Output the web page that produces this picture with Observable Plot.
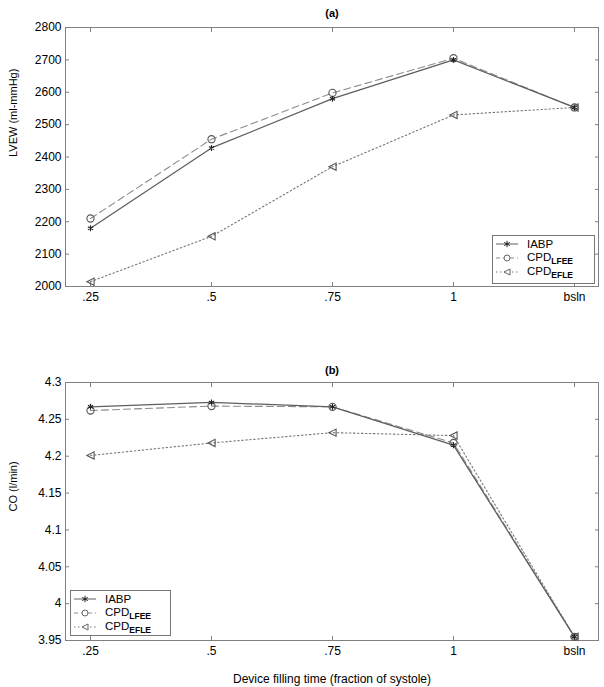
<!DOCTYPE html>
<html><head><meta charset="utf-8">
<script src="https://cdn.jsdelivr.net/npm/d3@7"></script>
<script src="https://cdn.jsdelivr.net/npm/@observablehq/plot@0.6"></script>
<style>
body{margin:0;background:#fff;font-family:"Liberation Sans",Arial,sans-serif;}
#wrap{position:relative;width:604px;height:687px;}
#wrap svg{display:block;}
.legend{position:absolute;border:1px solid #777;background:#fff;font-size:11.5px;color:#000;box-sizing:border-box;padding:1px 0 0 2px;}
.legend .row{display:flex;align-items:center;height:14px;}
.legend svg{margin-right:8px;}
.legend sub{font-size:8.5px;font-weight:bold;vertical-align:-3px;}
</style></head><body>
<div id="wrap"></div>
<script>
const xLabels = [".25", ".5", ".75", "1", "bsln"];
const seriesNames = ["IABP", "CPD_LFEE", "CPD_EFLE"];
// Panel (a): LVEW (ml-mmHg)
const lvewIABP = [2180, 2428, 2580, 2700, 2553];
const lvewLFEE = [2210, 2455, 2598, 2705, 2553];
const lvewEFLE = [2015, 2155, 2370, 2530, 2553];
const lvewTicks = [2000, 2100, 2200, 2300, 2400, 2500, 2600, 2700, 2800];
// Panel (b): CO (l/min)
const coIABP = [4.267, 4.273, 4.267, 4.215, 3.955];
const coLFEE = [4.262, 4.268, 4.267, 4.218, 3.955];
const coEFLE = [4.201, 4.218, 4.232, 4.228, 3.955];
const coTicks = [3.95, 4, 4.05, 4.1, 4.15, 4.2, 4.25, 4.3];

const leftTri = {draw(ctx, size){ const s = Math.sqrt(size / Math.PI); ctx.moveTo(-s, 0); ctx.lineTo(s, -s); ctx.lineTo(s, s); ctx.closePath(); }};
const styles = {
  IABP: {stroke: "#5f5f5f", dash: null, symbol: "asterisk", r: 2.8, sw: 1.3},
  CPD_LFEE: {stroke: "#8c8c8c", dash: "7,4", symbol: "circle", r: 3.6, sw: 1.1},
  CPD_EFLE: {stroke: "#777", dash: "1.5,2.5", symbol: leftTri, r: 3.6, sw: 1.1}
};

function rows(arrs){
  const out = [];
  arrs.forEach((a, i) => a.forEach((v, j) => out.push({series: seriesNames[i], x: xLabels[j], y: v})));
  return out;
}

function panel({title, ylabel, xlabel, yDomain, yTicks, fmt, data, height, marginTop, marginBottom, titleDy}){
  const marks = [
    Plot.frame({stroke: "#808080"}),
    Plot.axisX({tickSize: 0, tickPadding: 6, label: null, fontSize: 12}),
    Plot.axisX({tickSize: -4, tickFormat: () => "", label: null, stroke: "#808080"}),
    Plot.axisX({anchor: "top", tickSize: -4, tickFormat: () => "", label: null, stroke: "#808080"}),
    Plot.axisY({ticks: yTicks, tickSize: 0, tickPadding: 4, tickFormat: fmt, label: null, fontSize: 12}),
    Plot.axisY({ticks: yTicks, tickSize: -4, tickFormat: () => "", label: null, stroke: "#808080"}),
    Plot.axisY({anchor: "right", ticks: yTicks, tickSize: -4, tickFormat: () => "", label: null, stroke: "#808080"}),
    Plot.text([title], {frameAnchor: "top", dy: titleDy, fontWeight: "bold", fontSize: 11}),
    Plot.text([ylabel], {frameAnchor: "left", rotate: -90, dx: -52, fontSize: 11})
  ];
  if (xlabel) marks.push(Plot.text([xlabel], {frameAnchor: "bottom", dy: 42, fontSize: 12}));
  for (const s of seriesNames.slice().reverse()) {
    const st = styles[s];
    const d = data.filter(r => r.series === s);
    marks.push(Plot.line(d, {x: "x", y: "y", stroke: st.stroke, strokeWidth: st.sw, strokeDasharray: st.dash}));
    marks.push(Plot.dot(d, {x: "x", y: "y", stroke: s === "IABP" ? "#222" : "#555", fill: "none", strokeWidth: 1.1, symbol: () => st.symbol, r: st.r}));
  }
  return Plot.plot({
    width: 604, height, marginLeft: 65, marginRight: 6, marginTop, marginBottom,
    x: {type: "point", domain: xLabels, padding: 0.2, label: null},
    y: {domain: yDomain, label: null},
    symbol: {type: "identity"},
    style: {fontFamily: "'Liberation Sans', Arial, sans-serif", color: "#000", background: "#fff"},
    marks
  });
}

const wrap = document.getElementById("wrap");
wrap.append(panel({title: "(a)", ylabel: "LVEW (ml-mmHg)", yDomain: [2000, 2800], yTicks: lvewTicks, fmt: d => String(d),
  data: rows([lvewIABP, lvewLFEE, lvewEFLE]), height: 345, marginTop: 27, marginBottom: 59, titleDy: -18}));
wrap.append(panel({title: "(b)", ylabel: "CO (l/min)", xlabel: "Device filling time (fraction of systole)", yDomain: [3.95, 4.3], yTicks: coTicks,
  fmt: d => String(+d.toFixed(2)), data: rows([coIABP, coLFEE, coEFLE]), height: 342, marginTop: 37, marginBottom: 47, titleDy: -16}));

function swatch(s){
  const st = styles[s];
  const ns = "http://www.w3.org/2000/svg";
  const svg = document.createElementNS(ns, "svg");
  svg.setAttribute("width", 24); svg.setAttribute("height", 12);
  const line = document.createElementNS(ns, "line");
  line.setAttribute("x1", 1); line.setAttribute("x2", 23); line.setAttribute("y1", 6); line.setAttribute("y2", 6);
  line.setAttribute("stroke", st.stroke); line.setAttribute("stroke-width", 1);
  if (st.dash) line.setAttribute("stroke-dasharray", s === "CPD_LFEE" ? "4,3" : st.dash);
  svg.append(line);
  const sym = st.symbol === "asterisk" ? d3.symbolAsterisk : st.symbol === "circle" ? d3.symbolCircle : leftTri;
  const p = document.createElementNS(ns, "path");
  p.setAttribute("d", d3.symbol(sym, Math.PI * 3 * 3)());
  p.setAttribute("transform", "translate(12,6)");
  p.setAttribute("fill", st.symbol === "asterisk" ? "none" : "#fff");
  p.setAttribute("stroke", s === "IABP" ? "#222" : "#666");
  svg.append(p);
  return svg;
}
function legend(left, top, w, h){
  const div = document.createElement("div");
  div.className = "legend";
  Object.assign(div.style, {left: left + "px", top: top + "px", width: w + "px", height: h + "px"});
  for (const s of seriesNames) {
    const row = document.createElement("div"); row.className = "row";
    row.append(swatch(s));
    const t = document.createElement("span");
    const [a, b] = s.split("_");
    t.innerHTML = b ? `${a}<sub>${b}</sub>` : a;
    row.append(t);
    div.append(row);
  }
  wrap.append(div);
}
legend(492, 235, 103, 49);
legend(70, 590, 101, 46);
</script>
</body></html>
